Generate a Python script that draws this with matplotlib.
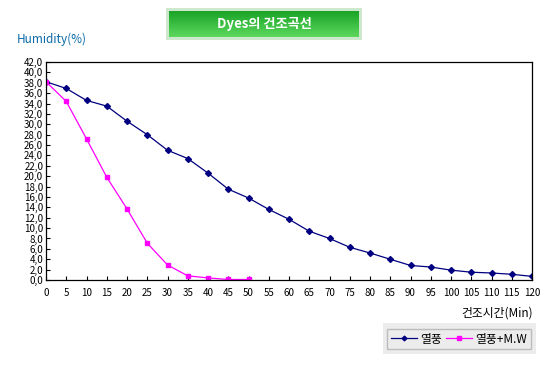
import numpy as np
import matplotlib
matplotlib.use('Agg')
import matplotlib.pyplot as plt
from matplotlib.patches import Rectangle
from matplotlib.ticker import FuncFormatter
from matplotlib.colors import LinearSegmentedColormap

plt.rcParams['font.family'] = ['Noto Sans CJK KR', 'DejaVu Sans']

# data
minutes = [0, 5, 10, 15, 20, 25, 30, 35, 40, 45, 50, 55, 60, 65, 70, 75, 80,
           85, 90, 95, 100, 105, 110, 115, 120]
hot_air = [38.2, 36.9, 34.6, 33.5, 30.6, 28.0, 25.0, 23.4, 20.6, 17.5, 15.8,
           13.6, 11.7, 9.4, 8.0, 6.3, 5.2, 4.0, 2.8, 2.5, 1.9, 1.5, 1.35, 1.1, 0.7]
mw_minutes = [0, 5, 10, 15, 20, 25, 30, 35, 40, 45, 50]
hot_air_mw = [38.2, 34.4, 27.2, 19.8, 13.7, 7.1, 2.9, 0.8, 0.4, 0.1, 0.1]
series_names = ['열풍', '열풍+M.W']

W, H = 550, 365
fig = plt.figure(figsize=(W / 100, H / 100), dpi=100)

ax = fig.add_axes([46 / W, 1 - 280 / H, (532 - 46) / W, (280 - 62) / H])
ax.plot(minutes, hot_air, color='#000080', lw=0.9, marker='D', ms=3,
        label=series_names[0])
ax.plot(mw_minutes, hot_air_mw, color='#ff00ff', lw=0.9, marker='s', ms=3,
        label=series_names[1])

ax.set_xlim(0, 120)
ax.set_ylim(0, 42)
ax.set_xticks(range(0, 121, 5))
ax.set_yticks(range(0, 43, 2))
ax.yaxis.set_major_formatter(FuncFormatter(lambda v, p: f'{v:.1f}'.replace('.', ',')))
ax.tick_params(direction='in', length=3, width=0.8, labelsize=7, pad=2)
ax.tick_params(axis='x', pad=6)
for s in ax.spines.values():
    s.set_linewidth(0.9)

# y label on top, x label bottom right
fig.text(17 / W, 1 - 39 / H, 'Humidity(%)', color='#0a6aa8', fontsize=8.5,
         va='center', ha='left')
fig.text(533 / W, 1 - 313 / H, '건조시간(Min)', fontsize=8.5, va='center',
         ha='right')

# title box: pale border + green gradient
border = fig.add_axes([166 / W, 1 - 40 / H, 196 / W, 32 / H], zorder=2)
border.set_facecolor('#cde8cd')
border.set_xticks([])
border.set_yticks([])
for s in border.spines.values():
    s.set_visible(False)
gax = fig.add_axes([169 / W, 1 - 37 / H, 190 / W, 26 / H], zorder=3)
grad = np.linspace(0, 1, 50).reshape(-1, 1)
cmap = LinearSegmentedColormap.from_list('g', ['#1aa428', '#5cd85c'])
gax.imshow(grad, aspect='auto', cmap=cmap, extent=[0, 1, 0, 1], origin='upper')
gax.axis('off')
gax.text(0.5, 0.5, 'Dyes의 건조곡선', color='white', fontsize=9.5,
         fontweight='bold', ha='center', va='center', transform=gax.transAxes)

# legend box
fig.patches.append(Rectangle((383 / W, 1 - 354 / H), 153 / W, 31 / H,
                             transform=fig.transFigure, facecolor='#ececec',
                             edgecolor='none'))
leg = fig.legend(loc='center', bbox_to_anchor=(459 / W, 1 - 339 / H),
                 ncol=2, fontsize=8.5, frameon=True, fancybox=False,
                 edgecolor='#b0b0b0', facecolor='#ececec', handlelength=2.2,
                 handletextpad=0.3, columnspacing=0.3, borderpad=0.3,
                 markerscale=0.8)
leg.get_frame().set_linewidth(1)

fig.savefig('out.png', dpi=100)
